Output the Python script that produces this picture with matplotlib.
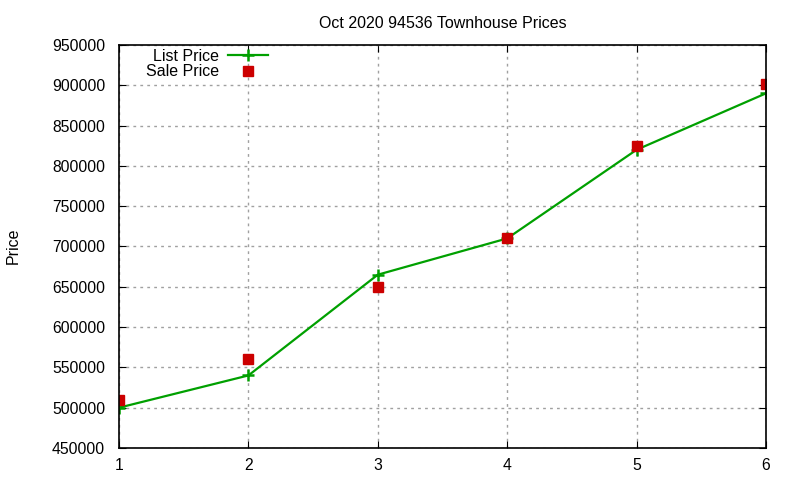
import matplotlib.pyplot as plt

plt.rcParams['font.family'] = ['Liberation Sans', 'DejaVu Sans']

x = [1, 2, 3, 4, 5, 6]
list_price = [500000, 540000, 665000, 710000, 820000, 890000]
sale_price = [510000, 560000, 650000, 710000, 825000, 902000]
yticks = list(range(450000, 950001, 50000))

fig = plt.figure(figsize=(8, 4.8), dpi=100)
ax = fig.add_axes([0.14875, 0.0667, 0.80875, 0.8396])

ax.plot(x, list_price, color='#00a000', linewidth=1.6, marker='+', markersize=9,
        markeredgewidth=1.8, label='List Price')
ax.plot(x, sale_price, color='#cc0000', linestyle='none', marker='s', markersize=6.5,
        label='Sale Price')

ax.set_xlim(1, 6)
ax.set_ylim(450000, 950000)
ax.set_xticks(x)
ax.set_yticks(yticks)
ax.tick_params(direction='in', top=True, right=True, labelsize=11.3, length=5)
ax.tick_params(axis='y', pad=10)
ax.tick_params(axis='x', pad=7)
ax.grid(True, color='#a0a0a0', linestyle=(0, (2, 3)), linewidth=1)
for s in ax.spines.values():
    s.set_linewidth(1.2)

ax.set_title('Oct 2020 94536 Townhouse Prices', fontsize=11.5, pad=12.5)
fig.text(0.016, 0.488, 'Price', rotation=90, fontsize=11.5, va='center', ha='center')

ax.legend(loc='upper left', bbox_to_anchor=(0.024, 1.018), frameon=False, markerfirst=False,
          fontsize=11.5, handlelength=2.5, handletextpad=0.6, labelspacing=0.02, borderaxespad=0.3)

fig.savefig('out.png', dpi=100)
